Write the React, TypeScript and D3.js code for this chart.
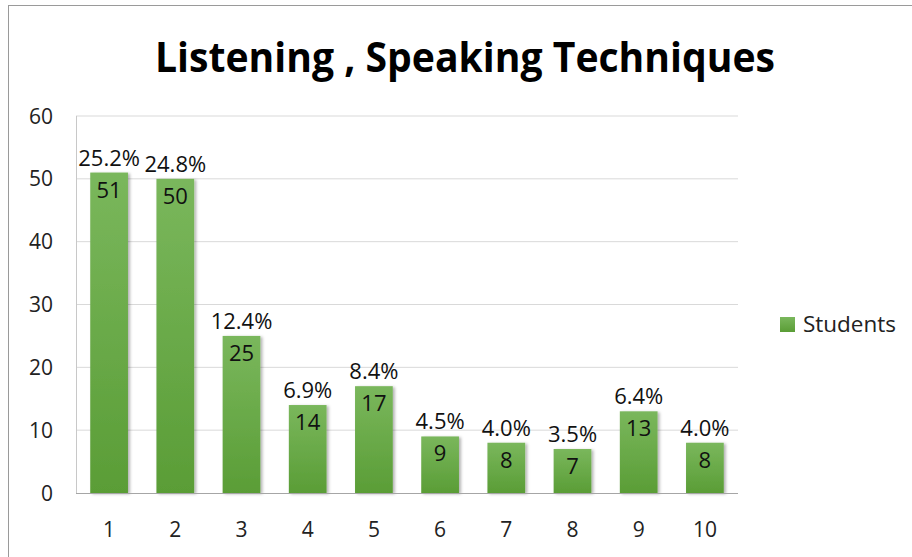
import * as d3 from 'd3';

const categories = ['1', '2', '3', '4', '5', '6', '7', '8', '9', '10'];
const students = [51, 50, 25, 14, 17, 9, 8, 7, 13, 8];
const percentLabels = ['25.2%', '24.8%', '12.4%', '6.9%', '8.4%', '4.5%', '4.0%', '3.5%', '6.4%', '4.0%'];
const yTicks = [0, 10, 20, 30, 40, 50, 60];

const W = 912;
const H = 557;
const FONT = '"Open Sans", "Noto Sans", sans-serif';

export default function App() {
  const x = d3.scaleBand().domain(categories).range([76, 738]).paddingInner(0.43).paddingOuter(0.215);
  const y = d3.scaleLinear().domain([0, 60]).range([493, 116]);

  return (
    <svg width={W} height={H} style={{ position: 'absolute', left: 0, top: 0 }} fontFamily={FONT}>
      <defs>
        <linearGradient id="barFill" x1="0" y1="0" x2="0" y2="1">
          <stop offset="0%" stopColor="#7ab75c" />
          <stop offset="100%" stopColor="#5a9d36" />
        </linearGradient>
        <filter id="shadow" x="-20%" y="-10%" width="140%" height="120%">
          <feDropShadow dx="2" dy="1" stdDeviation="1.5" floodColor="#000" floodOpacity="0.3" />
        </filter>
      </defs>
      <rect x={0} y={0} width={W} height={H} fill="#fff" />
      <rect x={8.5} y={5.5} width={W + 10} height={H + 10} fill="none" stroke="#9a9a9a" />

      <text x={465} y={72} textAnchor="middle" fontSize={41} fontWeight={700} fill="#000"
        textLength={620} lengthAdjust="spacingAndGlyphs">
        Listening , Speaking Techniques
      </text>

      {/* gridlines + y labels */}
      {yTicks.map(t => (
        <g key={t}>
          {t > 0 && <line x1={76} x2={738} y1={y(t)} y2={y(t)} stroke="#d9d9d9" />}
          <text x={53} y={y(t)} dy="0.36em" textAnchor="end" fontSize={21} fill="#222">{t}</text>
        </g>
      ))}
      <line x1={76.5} x2={76.5} y1={116} y2={493} stroke="#c8c8c8" />

      {/* bars */}
      {categories.map((c, i) => (
        <g key={c}>
          <rect x={x(c)} y={y(students[i])} width={x.bandwidth()} height={y(0) - y(students[i])}
            fill="url(#barFill)" filter="url(#shadow)" />
          <text x={x(c)! + x.bandwidth() / 2} y={y(students[i]) - 7} textAnchor="middle" fontSize={22} fill="#111">
            {percentLabels[i]}
          </text>
          <text x={x(c)! + x.bandwidth() / 2} y={y(students[i]) + 25} textAnchor="middle" fontSize={22} fill="#111">
            {students[i]}
          </text>
          <text x={x(c)! + x.bandwidth() / 2} y={537} textAnchor="middle" fontSize={21} fill="#222">{c}</text>
        </g>
      ))}
      <line x1={76} x2={738} y1={493.5} y2={493.5} stroke="#a6a6a6" />

      {/* legend */}
      <rect x={780} y={317} width={15} height={15} fill="url(#barFill)" />
      <text x={803} y={332} fontSize={21} fill="#222" textLength={93} lengthAdjust="spacingAndGlyphs">Students</text>
    </svg>
  );
}
